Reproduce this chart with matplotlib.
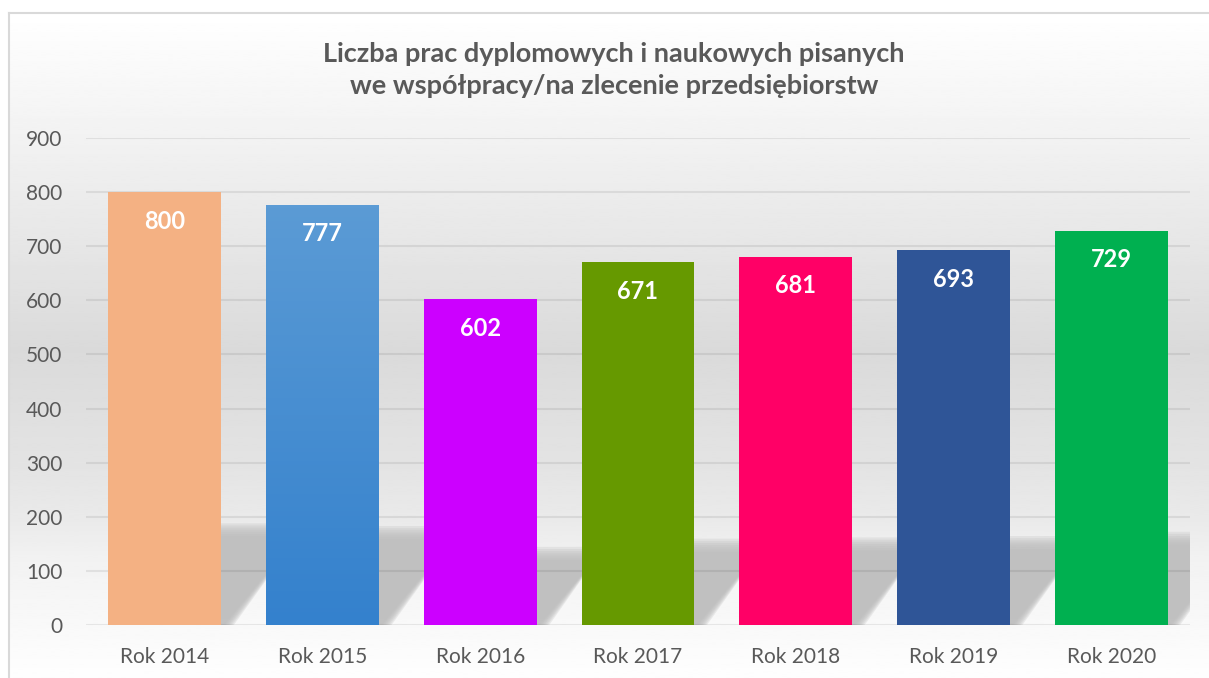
import numpy as np
import matplotlib
matplotlib.use("Agg")
import matplotlib.pyplot as plt
from matplotlib.patches import Polygon

# Dane wykresu
lata = ["Rok 2014", "Rok 2015", "Rok 2016", "Rok 2017", "Rok 2018", "Rok 2019", "Rok 2020"]
wartosci = [800, 777, 602, 671, 681, 693, 729]
kolory = ["#F4B183", "#5B9BD5", "#CC00FF", "#669900", "#FF0066", "#2F5597", "#00B050"]
tytul = "Liczba prac dyplomowych i naukowych pisanych\nwe współpracy/na zlecenie przedsiębiorstw"

plt.rcParams['font.family'] = ['Lato', 'DejaVu Sans']

W, H = 1209, 678
fig = plt.figure(figsize=(W / 100, H / 100), dpi=100)

# Tlo z gradientem (jasne u gory i dolu, szare w srodku)
bg = fig.add_axes([9 / W, 0, 1 - 9 / W, (H - 13) / H])
pos_px = np.array([13, 230, 350, 460, 520, 560, 678])
szarosc = np.array([255, 232, 218, 227, 234, 242, 254])
wiersze = np.linspace(13, 678, 300)
grad = np.interp(wiersze, pos_px, szarosc)[:, None]
bg.imshow(grad, aspect='auto', extent=[0, 1, 0, 1], cmap='gray', vmin=0, vmax=255,
          interpolation='bilinear')
bg.set_xlim(0, 1)
bg.set_ylim(0, 1)
bg.set_xticks([])
bg.set_yticks([])
for s in ['right', 'bottom']:
    bg.spines[s].set_visible(False)
for s in ['left', 'top']:
    bg.spines[s].set_color('#d9d9d9')
    bg.spines[s].set_linewidth(1.5)

# Glowny wykres
ax = fig.add_axes([86 / W, 53 / H, 1104 / W, 487 / H])
ax.patch.set_alpha(0)
x = np.arange(len(lata))
szer = 0.715
bars = ax.bar(x, wartosci, width=szer, color=kolory, zorder=3)

# gradient dla slupka 2015
g = np.linspace(0, 1, 100)[:, None]
cmap15 = matplotlib.colors.LinearSegmentedColormap.from_list("b15", ["#3481CD", "#5B9BD5"])
im = ax.imshow(g, cmap=cmap15, aspect='auto', origin='lower', zorder=3.1,
               extent=[x[1] - szer / 2, x[1] + szer / 2, 0, wartosci[1]])
im.set_clip_path(bars[1])

# cienie perspektywiczne za slupkami
przes = 0.05
for xi, v in zip(x, wartosci):
    L, R = xi - szer / 2 + przes, xi + szer / 2 + przes
    h = 0.22 * v
    dx = v * 0.00058
    for t in np.linspace(-1, 1, 7):
        sx = t * 0.03
        sy = t * 12
        pts = [(L + sx, 0), (R - sx, 0), (R - sx + dx, h - sy), (L + sx + dx, h - sy)]
        ax.add_patch(Polygon(pts, closed=True, color='#bbbbbb', alpha=0.25,
                             lw=0, zorder=0.3))

# etykiety wartosci
for xi, v in zip(x, wartosci):
    ax.text(xi, v - 54, str(v), ha='center', va='center', color='white',
            fontsize=17, fontweight='bold', zorder=4)

ax.set_xlim(-0.5, 6.5)
ax.set_ylim(0, 900)
ax.set_yticks(np.arange(0, 901, 100))
ax.set_xticks(x)
ax.set_xticklabels(lata)
ax.set_axisbelow(True)
ax.yaxis.grid(True, color='black', alpha=0.075, lw=1.5)
ax.tick_params(length=0, labelsize=15, labelcolor='#595959')
ax.tick_params(axis='y', pad=17)
ax.tick_params(axis='x', pad=16)
for s in ax.spines.values():
    s.set_visible(False)

fig.text(614 / W, 1 - 70 / H, tytul, ha='center', va='center', fontsize=19.5,
         fontweight='bold', color='#595959', linespacing=1.38)

fig.savefig("out.png", dpi=100)
